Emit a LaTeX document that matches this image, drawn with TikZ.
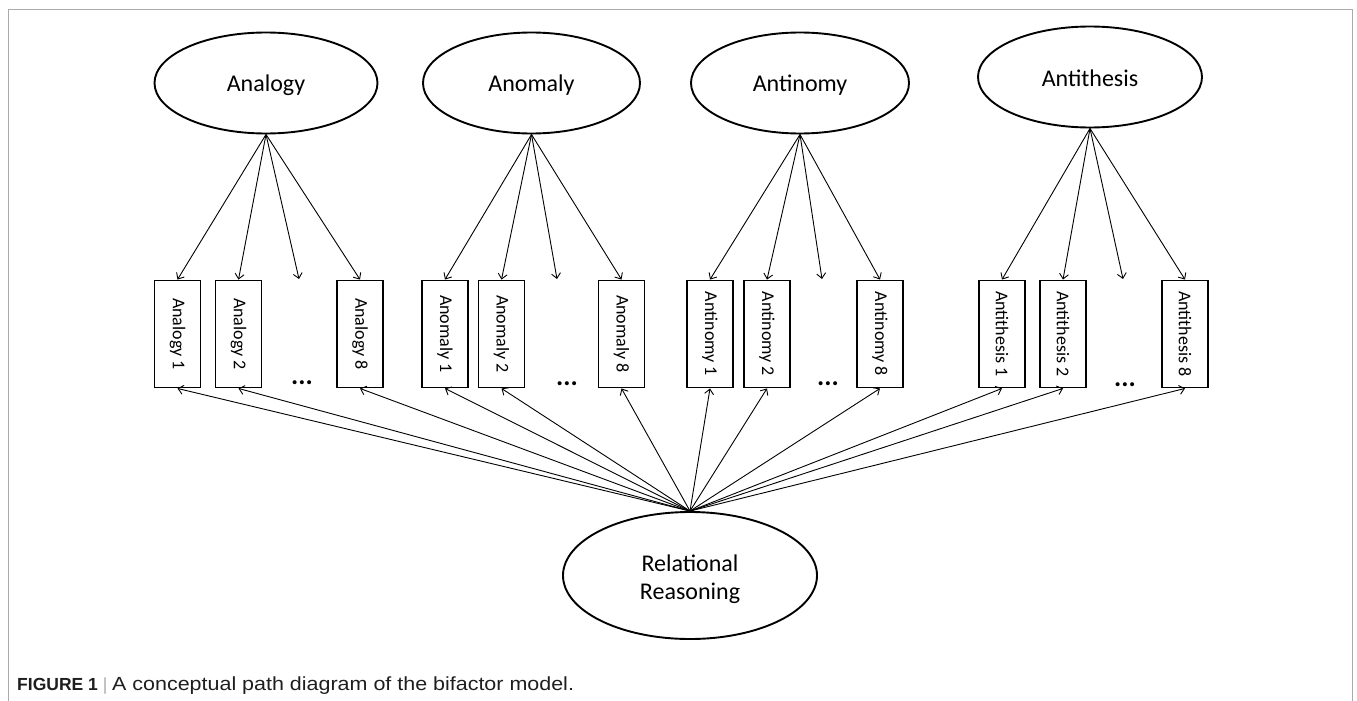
\documentclass[tikz,border=0pt]{standalone}
\usepackage{fontspec}
\usepackage{graphicx}
\setmainfont{Carlito}
\newfontfamily\capfont{Liberation Sans}
\usetikzlibrary{shapes.geometric,arrows.meta}
\definecolor{framegray}{RGB}{170,170,170}
\definecolor{captext}{RGB}{30,30,30}
\begin{document}
\begin{tikzpicture}[x=1pt,y=-1pt,
  lat/.style={draw,line width=1.9pt,ellipse,minimum height=101pt,inner sep=0pt},
  ind/.style={draw,line width=1.9pt,minimum width=46pt,minimum height=107pt,inner sep=0pt,
              font=\fontsize{18}{20}\selectfont},
  lattext/.style={anchor=base,inner sep=0pt,font=\fontsize{24}{28}\selectfont},
  dotsnode/.style={inner sep=0pt,font=\bfseries\fontsize{27}{28}\selectfont},
  arr/.style={line width=0.9pt,-{Straight Barb[length=5pt,width=9pt]}},
]
\useasboundingbox (0,0) rectangle (1357,701);
% frame
\draw[framegray,line width=1.5pt] (8.5,701) -- (8.5,9.5) -- (1352.5,9.5) -- (1352.5,701);

% ---- Analogy
\node[lat,minimum width=223pt] (ana) at (266,83) {};
\node[lattext] (anat) at (266,92) {Analogy};
\node[ind] (a1) at (177.5,334) {\rotatebox{-90}{Analogy 1}};
\node[ind] (a2) at (238.5,334) {\rotatebox{-90}{Analogy 2}};
\node[ind] (a8) at (360,334) {\rotatebox{-90}{Analogy 8}};
\node[dotsnode] (ad) at (302,383) {...};
\coordinate (ae) at (299,279);

% ---- Anomaly
\node[lat,minimum width=217pt] (anm) at (531.5,83) {};
\node[lattext] (anmt) at (531.5,92) {Anomaly};
\node[ind] (m1) at (445,334) {\rotatebox{-90}{Anomaly 1}};
\node[ind] (m2) at (501.5,334) {\rotatebox{-90}{Anomaly 2}};
\node[ind] (m8) at (621.5,334) {\rotatebox{-90}{Anomaly 8}};
\node[dotsnode] (md) at (567,384) {...};
\coordinate (me) at (557,279);

% ---- Antinomy
\node[lat,minimum width=218pt] (ant) at (800,83) {};
\node[lattext] (antt) at (800,92) {Antinomy};
\node[ind] (n1) at (710,334) {\rotatebox{-90}{Antinomy 1}};
\node[ind] (n2) at (767,334) {\rotatebox{-90}{Antinomy 2}};
\node[ind] (n8) at (880,334) {\rotatebox{-90}{Antinomy 8}};
\node[dotsnode] (nd) at (828,384) {...};
\coordinate (ne) at (822,279);

% ---- Antithesis
\node[lat,minimum width=224pt] (ath) at (1090,77) {};
\node[lattext] (atht) at (1090,86) {Antithesis};
\node[ind] (t1) at (1002,334) {\rotatebox{-90}{Antithesis 1}};
\node[ind] (t2) at (1063,334) {\rotatebox{-90}{Antithesis 2}};
\node[ind] (t8) at (1185,334) {\rotatebox{-90}{Antithesis 8}};
\node[dotsnode] (td) at (1125,385) {...};
\coordinate (te) at (1123,279);

% ---- general factor
\node[lat,minimum width=254pt,minimum height=127pt] (rr) at (690,575.5) {};
\node[lattext] (rrt1) at (690,571) {Relational};
\node[lattext] (rrt2) at (690,599) {Reasoning};

% specific loadings
\foreach \f/\b in {ana/a1,ana/a2,ana/ae,ana/a8,
                   anm/m1,anm/m2,anm/me,anm/m8,
                   ant/n1,ant/n2,ant/ne,ant/n8,
                   ath/t1,ath/t2,ath/te,ath/t8}{
  \draw[arr] (\f.south) -- (\b.north);
}
% general loadings
\foreach \b in {a1,a2,a8,m1,m2,m8,n1,n2,n8,t1,t2,t8}{
  \draw[arr] (rr.north) -- (\b.south);
}

% caption
\node[anchor=base west,inner sep=0pt,text=captext,font=\capfont\fontsize{17.5}{20}\selectfont] (cap) at (17,690)
  {\textbf{FIGURE 1} {\color{framegray}|} \scalebox{1.13}[1]{\fontsize{19}{20}\selectfont A conceptual path diagram of the bifactor model.}};
\end{tikzpicture}
\end{document}
